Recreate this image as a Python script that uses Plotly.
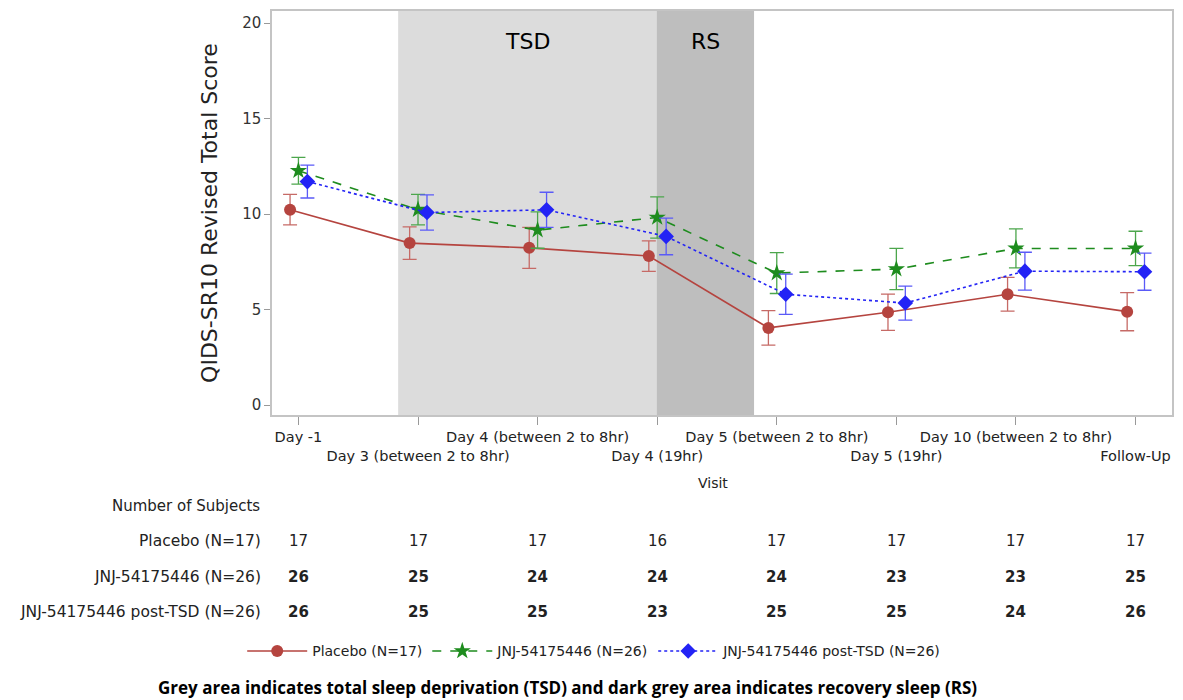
import plotly.graph_objects as go

# Visits (x categories) and subject counts
visits = [
    "Day -1",
    "Day 3 (between 2 to 8hr)",
    "Day 4 (between 2 to 8hr)",
    "Day 4 (19hr)",
    "Day 5 (between 2 to 8hr)",
    "Day 5 (19hr)",
    "Day 10 (between 2 to 8hr)",
    "Follow-Up",
]

placebo_mean = [10.23, 8.48, 8.23, 7.80, 4.04, 4.86, 5.80, 4.89]
placebo_err = [0.80, 0.85, 1.07, 0.80, 0.90, 0.95, 0.88, 1.00]

jnj_mean = [12.27, 10.23, 9.16, 9.82, 6.91, 7.12, 8.20, 8.20]
jnj_err = [0.70, 0.80, 0.95, 1.08, 1.07, 1.08, 1.02, 0.90]

post_mean = [11.70, 10.08, 10.22, 8.83, 5.80, 5.34, 7.01, 6.98]
post_err = [0.86, 0.92, 0.92, 0.96, 1.05, 0.89, 0.99, 0.97]

n_placebo = [17, 17, 17, 16, 17, 17, 17, 17]
n_jnj = [26, 25, 24, 24, 24, 23, 23, 25]
n_post = [26, 25, 25, 23, 25, 25, 24, 26]

group_names = ["Placebo (N=17)", "JNJ-54175446 (N=26)", "JNJ-54175446 post-TSD (N=26)"]

# Study phases on the visit axis: (label, start, end, fill colour)
phases = [("TSD", 0.834, 2.995, "#DCDCDC"), ("RS", 2.995, 3.81, "#BEBEBE")]

FONT = "DejaVu Sans"

xs = list(range(len(visits)))
dodge = 0.07

series = [
    dict(name=group_names[0], y=placebo_mean, e=placebo_err, off=-dodge,
         color="#B5443F", ecolor="#C66A66", dash="solid", symbol="circle", size=12, width=1.6),
    dict(name=group_names[1], y=jnj_mean, e=jnj_err, off=0.0,
         color="#1E8C1E", ecolor="#4CA64C", dash="dash", symbol="star", size=13, width=1.6),
    dict(name=group_names[2], y=post_mean, e=post_err, off=dodge + 0.005,
         color="#2323F5", ecolor="#5A5AF7", dash="dot", symbol="diamond", size=12, width=1.6),
]

fig = go.Figure()
for s in series:
    fig.add_trace(go.Scatter(
        x=[x + s["off"] for x in xs],
        y=s["y"],
        name=s["name"],
        mode="lines+markers",
        line=dict(color=s["color"], dash=s["dash"], width=s["width"]),
        marker=dict(symbol=s["symbol"], size=s["size"], color=s["color"], line=dict(width=0)),
        error_y=dict(type="data", array=s["e"], visible=True, color=s["ecolor"],
                     thickness=1.3, width=7),
    ))

# shaded phases
for label, x0, x1, col in phases:
    fig.add_shape(type="rect", xref="x", yref="paper", x0=x0, x1=x1, y0=0, y1=1,
                  fillcolor=col, line=dict(width=0), layer="below")
    fig.add_annotation(x=(x0 + x1) / 2, y=0.925, xref="x", yref="paper", text=label,
                       showarrow=False, yanchor="middle",
                       font=dict(family=FONT, size=22, color="#000000"))

# staggered tick labels
ticktext = [v if i % 2 == 0 else "<br>" + v for i, v in enumerate(visits)]

fig.update_layout(
    width=1183, height=700,
    margin=dict(l=272, r=9, t=10, b=285),
    plot_bgcolor="white", paper_bgcolor="white",
    showlegend=True,
    legend=dict(orientation="h", x=0.358, xanchor="center", y=-0.585, yanchor="middle",
                font=dict(family=FONT, size=14, color="#222"), itemwidth=60,
                tracegroupgap=0, bgcolor="rgba(0,0,0,0)"),
    xaxis=dict(range=[-0.221, 7.305], tickvals=xs, ticktext=ticktext, tickangle=0,
               showgrid=False, zeroline=False, ticks="outside", ticklen=8, tickcolor="#999",
               showline=True, mirror=True, linecolor="#C4C4C4", linewidth=1.5,
               tickfont=dict(family=FONT, size=14.5, color="#222")),
    yaxis=dict(range=[-0.52, 20.63], tickvals=[0, 5, 10, 15, 20],
               showgrid=False, zeroline=False, ticks="outside", ticklen=6, tickcolor="#999",
               showline=True, mirror=True, linecolor="#C4C4C4", linewidth=1.5,
               tickfont=dict(family=FONT, size=15, color="#333"),
               title=dict(text="QIDS-SR10 Revised Total Score", standoff=18,
                          font=dict(family=FONT, size=22, color="#222"))),
)

# x-axis title
fig.add_annotation(x=0.49, y=-0.168, xref="paper", yref="paper", text="Visit",
                   showarrow=False, yanchor="middle",
                   font=dict(family=FONT, size=14, color="#222"))

# subject count table
def px_to_paper_y(py):
    return (415 - py) / 405

fig.add_annotation(x=-0.011, y=px_to_paper_y(506), xref="paper", yref="paper",
                   text="Number of Subjects", showarrow=False, xanchor="right", yanchor="middle",
                   font=dict(family=FONT, size=15, color="#222"))

rows = [(group_names[0], n_placebo, 541, False),
        (group_names[1], n_jnj, 577, True),
        (group_names[2], n_post, 612, True)]
for label, counts, py, bold in rows:
    yy = px_to_paper_y(py)
    fig.add_annotation(x=-0.010, y=yy, xref="paper", yref="paper", text=label,
                       showarrow=False, xanchor="right", yanchor="middle",
                       font=dict(family=FONT, size=15.5, color="#222"))
    for i, n in enumerate(counts):
        txt = f"<b>{n}</b>" if bold else str(n)
        fig.add_annotation(x=xs[i], y=yy, xref="x", yref="paper", text=txt,
                           showarrow=False, yanchor="middle",
                           font=dict(family=FONT, size=15, color="#222"))

# footnote
fig.add_annotation(x=(568 - 272) / 901, y=px_to_paper_y(688), xref="paper", yref="paper",
                   text="<b>Grey area indicates total sleep deprivation (TSD) and dark grey area indicates recovery sleep (RS)</b>",
                   showarrow=False, xanchor="center", yanchor="middle",
                   font=dict(family="Open Sans", size=17, color="#000"))

fig.write_html("out.html")
